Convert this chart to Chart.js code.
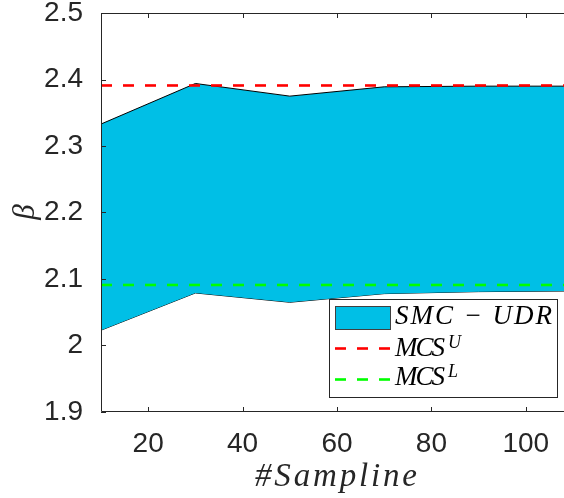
<!DOCTYPE html>
<html>
<head>
<meta charset="utf-8">
<script src="https://cdn.jsdelivr.net/npm/chart.js@4"></script>
<style>
  html, body { margin: 0; padding: 0; background: #fff; }
</style>
</head>
<body>
<canvas id="chart" width="564" height="498"></canvas>
<script>
// values
const samples = [10, 30, 50, 70, 90, 110];
const upper = [2.333, 2.394, 2.375, 2.389, 2.390, 2.390];
const lower = [2.023, 2.079, 2.065, 2.078, 2.081, 2.082];
const mcsUpper = 2.391;
const mcsLower = 2.091;
const xTicks = [20, 40, 60, 80, 100];
const yTicks = [1.9, 2.0, 2.1, 2.2, 2.3, 2.4, 2.5];
const legendNames = ['SMC \u2212 UDR', 'MCS', 'MCS'];
const legendSups = ['', 'U', 'L'];

const cyan = 'rgb(0,191,230)';
const ink = '#262626';
const serif = '"Liberation Serif", "DejaVu Serif", serif';

const pts = (xs, ys) => xs.map((x, i) => ({ x, y: ys[i] }));
const flat = v => [{ x: samples[0], y: v }, { x: samples[samples.length - 1], y: v }];

// draw text stretched to a given width (math italic is wider than Times)
function spaced(ctx, str, x, y, width) {
    ctx.letterSpacing = '0px';
    const w = ctx.measureText(str).width;
    const n = [...str].length;
    ctx.letterSpacing = ((width - w) / (n - 1)) + 'px';
    ctx.fillText(str, x, y);
    ctx.letterSpacing = '0px';
}

const framePlugin = {
    id: 'frame',
    afterDatasetsDraw(chart) {
        const { ctx, chartArea: a, scales: { x, y } } = chart;
        ctx.save();
        ctx.strokeStyle = ink;
        ctx.lineWidth = 1;
        ctx.beginPath();
        ctx.moveTo(chart.width, a.top + 0.5);
        ctx.lineTo(a.left + 0.5, a.top + 0.5);
        ctx.lineTo(a.left + 0.5, a.bottom - 0.5);
        ctx.lineTo(chart.width, a.bottom - 0.5);
        xTicks.forEach(v => {
            const px = Math.round(x.getPixelForValue(v)) + 0.5;
            ctx.moveTo(px, a.bottom);
            ctx.lineTo(px, a.bottom - 5);
            ctx.moveTo(px, a.top);
            ctx.lineTo(px, a.top + 5);
        });
        yTicks.forEach(v => {
            const py = Math.round(y.getPixelForValue(v)) + 0.5;
            ctx.moveTo(a.left, py);
            ctx.lineTo(a.left + 5, py);
        });
        ctx.stroke();

        // axis titles
        ctx.fillStyle = ink;
        ctx.font = 'italic 33px ' + serif;
        ctx.textAlign = 'left';
        ctx.textBaseline = 'alphabetic';
        spaced(ctx, '#Sampline', 255, 486, 162);

        ctx.save();
        ctx.translate(26, 212);
        ctx.rotate(-Math.PI / 2);
        ctx.textAlign = 'center';
        ctx.textBaseline = 'middle';
        ctx.font = 'italic 31px ' + serif;
        ctx.fillText('\u03b2', 0, 0);
        ctx.restore();

        // legend
        const ds = chart.data.datasets;
        ctx.fillStyle = '#fff';
        ctx.fillRect(329.5, 299.5, 228, 98);
        ctx.strokeStyle = ink;
        ctx.strokeRect(329.5, 299.5, 228, 98);

        ctx.fillStyle = ds[0].backgroundColor;
        ctx.fillRect(335.5, 306.5, 55, 23);
        ctx.strokeStyle = '#404040';
        ctx.strokeRect(335.5, 306.5, 55, 23);

        [[2, 348.5], [3, 379.5]].forEach(([i, ly]) => {
            ctx.strokeStyle = ds[i].borderColor;
            ctx.lineWidth = ds[i].borderWidth;
            ctx.setLineDash(ds[i].borderDash);
            ctx.beginPath();
            ctx.moveTo(335, ly);
            ctx.lineTo(390, ly);
            ctx.stroke();
        });
        ctx.setLineDash([]);

        ctx.fillStyle = '#000';
        ctx.font = 'italic 27px ' + serif;
        spaced(ctx, legendNames[0], 395, 324, 157);
        [355.5, 385].forEach((base, k) => {
            ctx.font = 'italic 27px ' + serif;
            spaced(ctx, legendNames[k + 1], 395, base, 50);
            ctx.font = 'italic 18px ' + serif;
            ctx.fillText(legendSups[k + 1], 448, base - 8);
        });
        ctx.restore();
    }
};

new Chart(document.getElementById('chart'), {
    type: 'line',
    data: {
        datasets: [
            {
                label: legendNames[0],
                data: pts(samples, upper),
                borderColor: '#000',
                borderWidth: 1,
                backgroundColor: cyan,
                fill: '+1',
                pointRadius: 0,
                order: 2,
            },
            {
                label: 'lower',
                data: pts(samples, lower),
                borderColor: '#000',
                borderWidth: 1,
                fill: false,
                pointRadius: 0,
                order: 3,
            },
            {
                label: legendNames[1] + legendSups[1],
                data: flat(mcsUpper),
                borderColor: '#ff0000',
                borderWidth: 2.6,
                borderDash: [11, 11],
                fill: false,
                pointRadius: 0,
                order: 0,
            },
            {
                label: legendNames[2] + legendSups[2],
                data: flat(mcsLower),
                borderColor: '#00ff00',
                borderWidth: 2.6,
                borderDash: [11, 11],
                fill: false,
                pointRadius: 0,
                order: 1,
            },
        ],
    },
    options: {
        responsive: false,
        animation: false,
        layout: { padding: { top: 13, left: 0, right: 0, bottom: 0 } },
        plugins: { legend: { display: false }, tooltip: { enabled: false } },
        scales: {
            x: {
                type: 'linear',
                min: 10,
                max: 108.1,
                afterBuildTicks: s => { s.ticks = xTicks.map(v => ({ value: v })); },
                afterFit: s => { s.height = 86; s.paddingLeft = 0; s.paddingRight = 0; },
                grid: { display: false },
                border: { display: false },
                ticks: {
                    color: ink,
                    font: { family: 'Liberation Sans', size: 28 },
                    padding: 7,
                    maxRotation: 0,
                    autoSkip: false,
                },
            },
            y: {
                min: 1.9,
                max: 2.5,
                afterBuildTicks: s => { s.ticks = yTicks.map(v => ({ value: v })); },
                afterFit: s => { s.width = 101; s.paddingTop = 0; s.paddingBottom = 0; },
                grid: { display: false },
                border: { display: false },
                ticks: {
                    color: ink,
                    font: { family: 'Liberation Sans', size: 28 },
                    padding: 10,
                    autoSkip: false,
                    callback: v => String(parseFloat(v.toFixed(1))),
                },
            },
        },
    },
    plugins: [framePlugin],
});
</script>
</body>
</html>
